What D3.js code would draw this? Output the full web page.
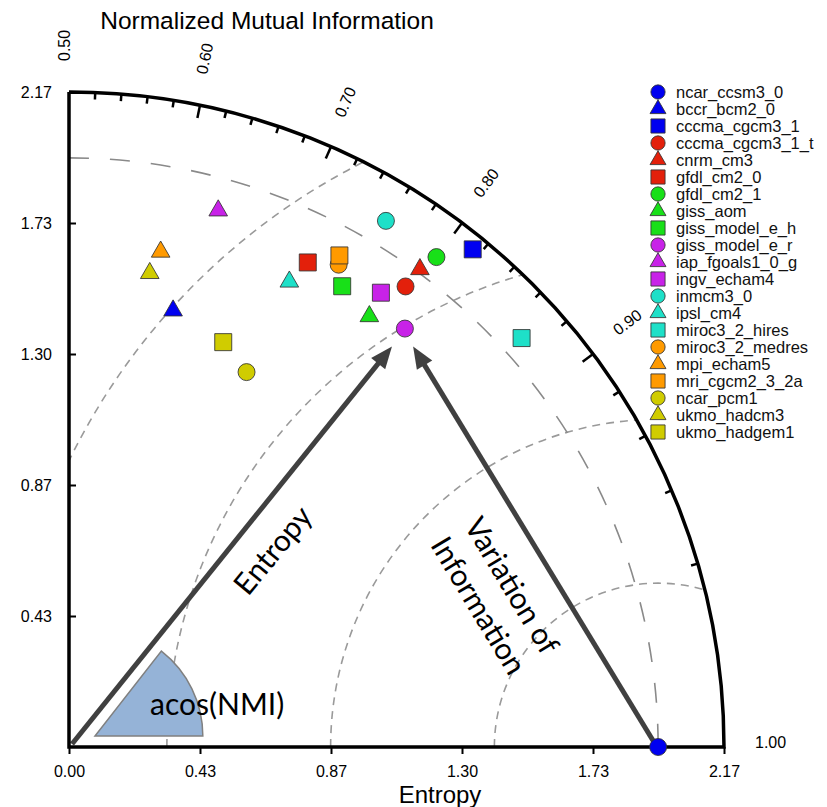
<!DOCTYPE html>
<html>
<head>
<meta charset="utf-8">
<script src="https://cdn.jsdelivr.net/npm/d3@7"></script>
<style>
  body { margin: 0; background: #fff; }
  svg { display: block; font-family: "Liberation Sans", Arial, Helvetica, sans-serif; }
</style>
</head>
<body>
<svg id="chart" width="827" height="807"></svg>
<script>
// ---- data -------------------------------------------------------------
const models = ["ncar_ccsm3_0", "bccr_bcm2_0", "cccma_cgcm3_1", "cccma_cgcm3_1_t",
  "cnrm_cm3", "gfdl_cm2_0", "gfdl_cm2_1", "giss_aom", "giss_model_e_h",
  "giss_model_e_r", "iap_fgoals1_0_g", "ingv_echam4", "inmcm3_0", "ipsl_cm4",
  "miroc3_2_hires", "miroc3_2_medres", "mpi_echam5", "mri_cgcm2_3_2a",
  "ncar_pcm1", "ukmo_hadcm3", "ukmo_hadgem1"];
const markerShapes = ["circle", "triangle", "square", "circle", "triangle", "square",
  "circle", "triangle", "square", "circle", "triangle", "square", "circle",
  "triangle", "square", "circle", "triangle", "square", "circle", "triangle", "square"];
const markerColors = ["#0000f0", "#0000f0", "#0000f0", "#e3200b", "#e3200b", "#e3200b",
  "#18e018", "#18e018", "#18e018", "#c822e8", "#c822e8", "#c822e8",
  "#1ee0c8", "#1ee0c8", "#1ee0c8", "#ff9a00", "#ff9a00", "#ff9a00",
  "#d0cc00", "#d0cc00", "#d0cc00"];
// entropy (radius) and normalized mutual information (angle) of each model
const entropy = [1.950, 1.485, 2.121, 1.888, 1.962, 1.788, 2.027, 1.738, 1.773,
  1.776, 1.843, 1.824, 2.033, 1.704, 2.019, 1.829, 1.667, 1.857, 1.373, 1.591, 1.434];
const nmi = [1.000, 0.616, 0.815, 0.795, 0.796, 0.721, 0.800, 0.786, 0.755,
  0.813, 0.634, 0.783, 0.758, 0.714, 0.871, 0.744, 0.591, 0.741, 0.714, 0.584, 0.678];

const entropyMax = 2.168;
const entropyTicks = [0, 0.4336, 0.8672, 1.3008, 1.7344, 2.168];
const nmiMajorTicks = [0.5, 0.6, 0.7, 0.8, 0.9, 1.0];
const nmiMinorTicks = [0.52, 0.54, 0.56, 0.58, 0.62, 0.64, 0.66, 0.68, 0.72, 0.74,
  0.76, 0.78, 0.82, 0.84, 0.86, 0.88, 0.92, 0.94, 0.96, 0.98];
const viRings = [0.542, 1.084, 1.626, 2.168];   // variation-of-information circles
const refEntropy = entropy[0];                   // reference model

// ---- layout -----------------------------------------------------------
const ox = 69, oy = 747, R = 655;
const svg = d3.select("#chart");
const rScale = d3.scaleLinear().domain([0, entropyMax]).range([0, R]);
const xScale = d3.scaleLinear().domain([0, entropyMax]).range([ox, ox + R]);
const yScale = d3.scaleLinear().domain([0, entropyMax]).range([oy, oy - R]);
const theta = n => Math.acos(2 * n - 1);          // NMI -> angle from x axis
const pos = (e, n) => [xScale(e * Math.cos(theta(n))), yScale(e * Math.sin(theta(n)))];

// quarter-disc clip for the grid circles
svg.append("clipPath").attr("id", "quarter").append("path")
  .attr("d", `M${ox},${oy}L${ox + R},${oy}A${R},${R} 0 0 0 ${ox},${oy - R}Z`);

const grid = svg.append("g").attr("clip-path", "url(#quarter)").attr("fill", "none");

// circles of constant variation of information around the reference
viRings.forEach(v => {
  const p = d3.path();
  const cx = xScale(refEntropy), r = rScale(v);
  p.moveTo(cx - r, oy);
  p.arc(cx, oy, r, Math.PI, 2 * Math.PI);
  grid.append("path").attr("d", p.toString())
    .attr("stroke", "#9a9a9a").attr("stroke-width", 1.6)
    .attr("stroke-dasharray", "8,6");
});

// arc of the reference entropy
{
  const p = d3.path();
  const r = rScale(refEntropy);
  p.moveTo(ox, oy - r);
  p.arc(ox, oy, r, -Math.PI / 2, 0);
  grid.append("path").attr("d", p.toString())
    .attr("stroke", "#8a8a8a").attr("stroke-width", 1.6)
    .attr("stroke-dasharray", "20,21");
}

// ---- acos(NMI) wedge --------------------------------------------------
const wedgeArc = d3.arc().innerRadius(0).outerRadius(rScale(0.357))
  .startAngle(Math.PI / 2 - 52 * Math.PI / 180).endAngle(Math.PI / 2);
svg.append("path")
  .attr("transform", `translate(${xScale(0.086)},${yScale(0.036)})`)
  .attr("d", wedgeArc())
  .attr("fill", "#95b3d7").attr("stroke", "#808080").attr("stroke-width", 1.5);

// ---- annotation arrows ------------------------------------------------
const arrows = [
  { from: [0.01, 0.01], to: [1.069, 1.326] },
  { from: [1.94, 0.01], to: [1.139, 1.326] }
];
arrows.forEach(a => {
  const x0 = xScale(a.from[0]), y0 = yScale(a.from[1]);
  const x1 = xScale(a.to[0]), y1 = yScale(a.to[1]);
  const len = Math.hypot(x1 - x0, y1 - y0);
  const ux = (x1 - x0) / len, uy = (y1 - y0) / len;
  const L = 22, W = 9;
  svg.append("line")
    .attr("x1", x0).attr("y1", y0)
    .attr("x2", x1 - ux * L * 0.8).attr("y2", y1 - uy * L * 0.8)
    .attr("stroke", "#404040").attr("stroke-width", 5);
  const bx = x1 - ux * L, by = y1 - uy * L;
  svg.append("path")
    .attr("d", `M${x1},${y1}L${bx - uy * W},${by + ux * W}L${bx + uy * W},${by - ux * W}Z`)
    .attr("fill", "#404040");
});

// ---- frame ------------------------------------------------------------
svg.append("path")
  .attr("d", `M${ox},${oy - R}L${ox},${oy}L${ox + R},${oy}A${R},${R} 0 0 0 ${ox},${oy - R}`)
  .attr("fill", "none").attr("stroke", "#000").attr("stroke-width", 3.5)
  .attr("stroke-linejoin", "miter");

// x axis (entropy)
const xAxis = svg.append("g").attr("transform", `translate(0,${oy})`)
  .call(d3.axisBottom(xScale).tickValues(entropyTicks).tickFormat(d3.format(".2f"))
    .tickSizeInner(7).tickSizeOuter(0).tickPadding(12));
xAxis.select(".domain").remove();
xAxis.selectAll("line").attr("stroke", "#000").attr("stroke-width", 2);
xAxis.selectAll("text").attr("font-size", 16).attr("fill", "#000")
  .attr("font-family", "'Liberation Sans', Arial, sans-serif");

// y axis (entropy)
const yAxis = svg.append("g").attr("transform", `translate(${ox},0)`)
  .call(d3.axisLeft(yScale).tickValues(entropyTicks.slice(1)).tickFormat(d3.format(".2f"))
    .tickSizeInner(-7).tickSizeOuter(0).tickPadding(17));
yAxis.select(".domain").remove();
yAxis.selectAll("line").attr("stroke", "#000").attr("stroke-width", 2);
yAxis.selectAll("text").attr("font-size", 16).attr("fill", "#000")
  .attr("font-family", "'Liberation Sans', Arial, sans-serif");

// angular ticks (NMI)
const angTicks = svg.append("g").attr("stroke", "#000").attr("stroke-width", 2.5);
[...nmiMajorTicks.slice(1, -1).map(n => [n, 13]), ...nmiMinorTicks.map(n => [n, 7])]
  .forEach(([n, len]) => {
    const a = theta(n);
    angTicks.append("line")
      .attr("x1", ox + R * Math.cos(a)).attr("y1", oy - R * Math.sin(a))
      .attr("x2", ox + (R - len) * Math.cos(a)).attr("y2", oy - (R - len) * Math.sin(a));
  });
const angLabels = svg.append("g").attr("font-size", 16).attr("fill", "#000");
nmiMajorTicks.forEach(n => {
  const a = theta(n), rr = R + 31;
  angLabels.append("text")
    .attr("transform", `translate(${ox + rr * Math.cos(a)},${oy - rr * Math.sin(a)}) rotate(${-a * 180 / Math.PI})`)
    .attr("dy", "0.05em")
    .text(d3.format(".2f")(n));
});

// ---- titles -----------------------------------------------------------
svg.append("text").attr("x", 267).attr("y", 29).attr("text-anchor", "middle")
  .attr("font-size", 24.5).attr("fill", "#000").text("Normalized Mutual Information");
svg.append("text").attr("x", 440).attr("y", 803).attr("text-anchor", "middle")
  .attr("font-size", 24).attr("fill", "#000").text("Entropy");

// annotation labels
const ann = svg.append("g").attr("font-family", "Lato, 'Open Sans', sans-serif")
  .attr("font-size", 30).attr("fill", "#000");
ann.append("text").attr("x", 150).attr("y", 715).text("acos(NMI)");
ann.append("text").attr("text-anchor", "middle")
  .attr("transform", "translate(281,557) rotate(-50.5)").text("Entropy");
const vi = ann.append("text").attr("text-anchor", "middle")
  .attr("transform", "translate(503,591) rotate(59)");
vi.append("tspan").attr("x", 0).attr("y", 0).text("Variation of");
vi.append("tspan").attr("x", 0).attr("y", 39).text("Information");

// ---- markers ----------------------------------------------------------
const shapeType = { circle: d3.symbolCircle, square: d3.symbolSquare, triangle: d3.symbolTriangle };
const plotSize = { circle: 227, square: 289, triangle: 150 };
const legendSize = { circle: 160, square: 200, triangle: 110 };

svg.append("g").selectAll("path").data(models.map((m, i) => i)).join("path")
  .attr("transform", i => { const [x, y] = pos(entropy[i], nmi[i]); return `translate(${x},${y})`; })
  .attr("d", i => d3.symbol().type(shapeType[markerShapes[i]]).size(plotSize[markerShapes[i]])())
  .attr("fill", i => markerColors[i])
  .attr("stroke", "#333").attr("stroke-opacity", 0.85).attr("stroke-width", 1);

// ---- legend -----------------------------------------------------------
const legend = svg.append("g").attr("transform", "translate(658,92)");
const rows = legend.selectAll("g").data(models.map((m, i) => i)).join("g")
  .attr("transform", i => `translate(0,${i * 17})`);
rows.append("path")
  .attr("d", i => d3.symbol().type(shapeType[markerShapes[i]]).size(legendSize[markerShapes[i]])())
  .attr("fill", i => markerColors[i])
  .attr("stroke", "#333").attr("stroke-opacity", 0.85).attr("stroke-width", 1);
rows.append("text").attr("x", 18).attr("y", 5.5).attr("font-size", 16.5).attr("fill", "#111")
  .text(i => models[i]);
</script>
</body>
</html>
